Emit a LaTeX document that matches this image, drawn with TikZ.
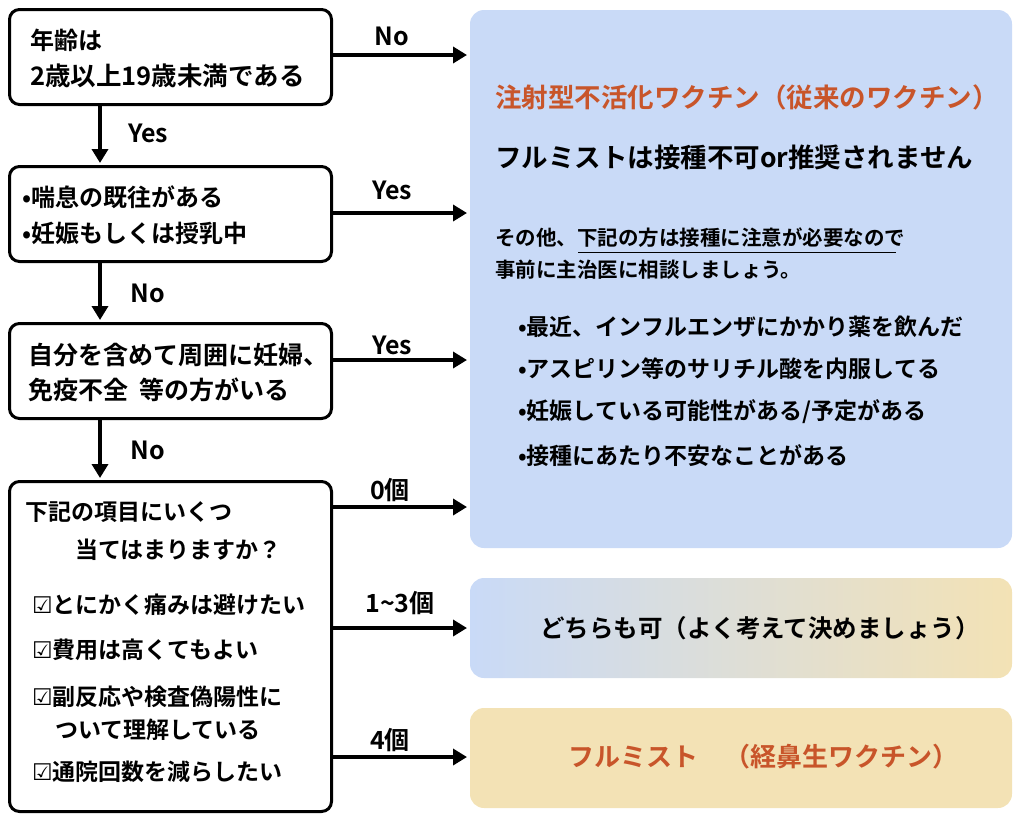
\documentclass[tikz,border=0pt]{standalone}
\usepackage{fontspec}
\setmainfont{Noto Sans CJK JP}[BoldFont={Noto Sans CJK JP Bold}]
\newfontfamily\symf{DejaVu Sans}
\definecolor{lb}{HTML}{C9DAF7}
\definecolor{bg}{HTML}{F3E2B5}
\definecolor{org}{HTML}{C8552A}
\usetikzlibrary{arrows.meta}
\tikzset{
 box/.style={draw=black,line width=3pt,rounded corners=10pt},
 pane/.style={rounded corners=14pt},
 arr/.style={line width=4pt,-{Triangle[length=14pt,width=16pt]}},
 t/.style={anchor=west,inner sep=0pt,font=\bfseries\fontsize{24}{26}\selectfont},
 tr/.style={anchor=west,inner sep=0pt,font=\bfseries\fontsize{23}{26}\selectfont},
 lab/.style={inner sep=0pt,font=\bfseries\fontsize{25}{27}\selectfont},
}
\begin{document}
\begin{tikzpicture}[x=1pt,y=-1pt]
\useasboundingbox (0,0) rectangle (1024,817);
% panes
\fill[lb,pane] (470,10) rectangle (1012,548);
\shade[pane,left color=lb,right color=bg] (470,578) rectangle (1012,678);
\fill[bg,pane] (470,708) rectangle (1012,808);
% boxes
\node[box,minimum width=322pt,minimum height=95pt,anchor=north west] (b1) at (8,8) {};
\node[box,minimum width=322pt,minimum height=95pt,anchor=north west] (b2) at (8,165) {};
\node[box,minimum width=322pt,minimum height=95pt,anchor=north west] (b3) at (8,322) {};
\node[box,minimum width=322pt,minimum height=330pt,anchor=north west] (b4) at (8,480) {};
\node[t] at (30,40) {年齢は};
\node[t,font=\bfseries\fontsize{25.5}{27}\selectfont] at (30,76) {2歳以上19歳未満である};
\node[t] at (22,197) {•喘息の既往がある};
\node[t] at (22,233) {•妊娠もしくは授乳中};
\node[t,font=\bfseries\fontsize{25}{27}\selectfont] at (28,355) {自分を含めて周囲に妊婦、};
\node[t,font=\bfseries\fontsize{25}{27}\selectfont] at (28,390) {免疫不全\ \ 等の方がいる};
\node[t,font=\bfseries\fontsize{23}{26}\selectfont] at (25,512) {下記の項目にいくつ};
\node[t,font=\bfseries\fontsize{23}{26}\selectfont] at (75,550) {当てはまりますか？};
\node[tr] at (32,605) {{\symf\bfseries ☑}とにかく痛みは避けたい};
\node[tr] at (32,650) {{\symf\bfseries ☑}費用は高くてもよい};
\node[tr] at (32,697) {{\symf\bfseries ☑}副反応や検査偽陽性に};
\node[tr] at (55,730) {ついて理解している};
\node[tr] at (32,772) {{\symf\bfseries ☑}通院回数を減らしたい};
% down arrows
\draw[arr] (100,103) -- (100,163);
\draw[arr] (100,260) -- (100,320);
\draw[arr] (100,417) -- (100,478);
\node[lab] at (148,133) {Yes};
\node[lab] at (148,293) {No};
\node[lab] at (148,450) {No};
% right arrows
\coordinate (r1) at (467,55); \coordinate (r2) at (467,213);
\coordinate (r3) at (467,360); \coordinate (r4) at (467,507);
\coordinate (r5) at (467,628); \coordinate (r6) at (467,757);
\draw[arr] (b1.east|-r1) -- (r1);
\draw[arr] (b2.east|-r2) -- (r2);
\draw[arr] (b3.east|-r3) -- (r3);
\draw[arr] (b4.east|-r4) -- (r4);
\draw[arr] (b4.east|-r5) -- (r5);
\draw[arr] (b4.east|-r6) -- (r6);
\node[lab] at (392,36) {No};
\node[lab] at (392,190) {Yes};
\node[lab] at (392,345) {Yes};
\node[lab] at (390,490) {0個};
\node[lab] at (400,603) {1\char`~3個};
\node[lab] at (390,740) {4個};
% right text
\node[t,text=org,font=\bfseries\fontsize{26.5}{28}\selectfont] at (495,97) {注射型不活化ワクチン（従来のワクチン）};
\node[t,font=\bfseries\fontsize{26.5}{28}\selectfont] at (495,157) {フルミストは接種不可or推奨されません};
\node[t,font=\bfseries\fontsize{20.5}{24}\selectfont] at (495,238) {その他、下記の方は接種に注意が必要なので};
\draw[line width=0.8pt] (578,252) -- (896,252);
\node[t,font=\bfseries\fontsize{20.5}{24}\selectfont] at (495,270) {事前に主治医に相談しましょう。};
\node[tr] at (518,327) {•最近、インフルエンザにかかり薬を飲んだ};
\node[tr] at (518,369) {•アスピリン等のサリチル酸を内服してる};
\node[tr] at (518,412) {•妊娠している可能性がある/予定がある};
\node[tr] at (518,456) {•接種にあたり不安なことがある};
\node[t,font=\bfseries\fontsize{24.5}{27}\selectfont] at (540,628) {どちらも可（よく考えて決めましょう）};
\node[t,text=org,font=\bfseries\fontsize{26}{28}\selectfont] at (568,757) {フルミスト\quad（経鼻生ワクチン）};
\end{tikzpicture}
\end{document}
